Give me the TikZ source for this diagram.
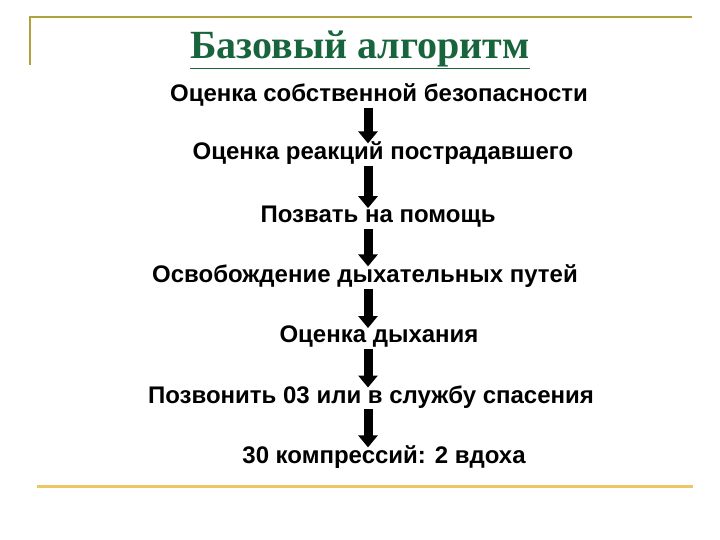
\documentclass[tikz,border=0pt]{standalone}
\usepackage{fontspec}
\setmainfont{Liberation Sans}
\newfontfamily\titlefont{Liberation Serif}
\usetikzlibrary{arrows.meta}
\usetikzlibrary{positioning}
\definecolor{frameolive}{RGB}{178,160,60}
\definecolor{rulegold}{RGB}{236,200,100}
\definecolor{titlegreen}{RGB}{24,100,60}
\tikzset{
  x = 1pt,
  y = -1pt,
  stepbox/.style = {font=\bfseries\fontsize{24}{28}\selectfont, inner sep=0pt},
  flow/.style = {line width=9pt, -{Triangle[width=19pt,length=12pt]}},
}

\begin{document}
\begin{tikzpicture}
    \useasboundingbox (0,0) rectangle (720,540);
    \draw [frameolive, line width=1.5pt] (30,65) -- (30,17) -- (692,17);
    \draw [rulegold, line width=3pt] (37,486) -- (693,486);
    \node [titlegreen, font=\titlefont\bfseries\fontsize{40}{44}\selectfont] (title) at (360,50)
      {\underline{Базовый алгоритм}};
    \coordinate (axis) at (368,0);
    \node [stepbox] (s1) at (379,95) {Оценка собственной безопасности};
    \node [stepbox] (s2) at (383,153) {Оценка реакций пострадавшего};
    \node [stepbox] (s3) at (378,217) {Позвать на помощь};
    \node [stepbox] (s4) at (365,276) {Освобождение дыхательных путей};
    \node [stepbox] (s5) at (379,337) {Оценка дыхания};
    \node [stepbox] (s6) at (371,397) {Позвонить 03 или в службу спасения};
    \node [stepbox] (s7) at (384,457) {30 компрессий: 2 вдоха};
    \foreach \a/\b in {s1/s2, s2/s3, s3/s4, s4/s5, s5/s6, s6/s7}
      \draw [flow] ([yshift=-1pt]\a.south -| axis) -- ([yshift=-2pt]\b.north -| axis);
\end{tikzpicture}
\end{document}
